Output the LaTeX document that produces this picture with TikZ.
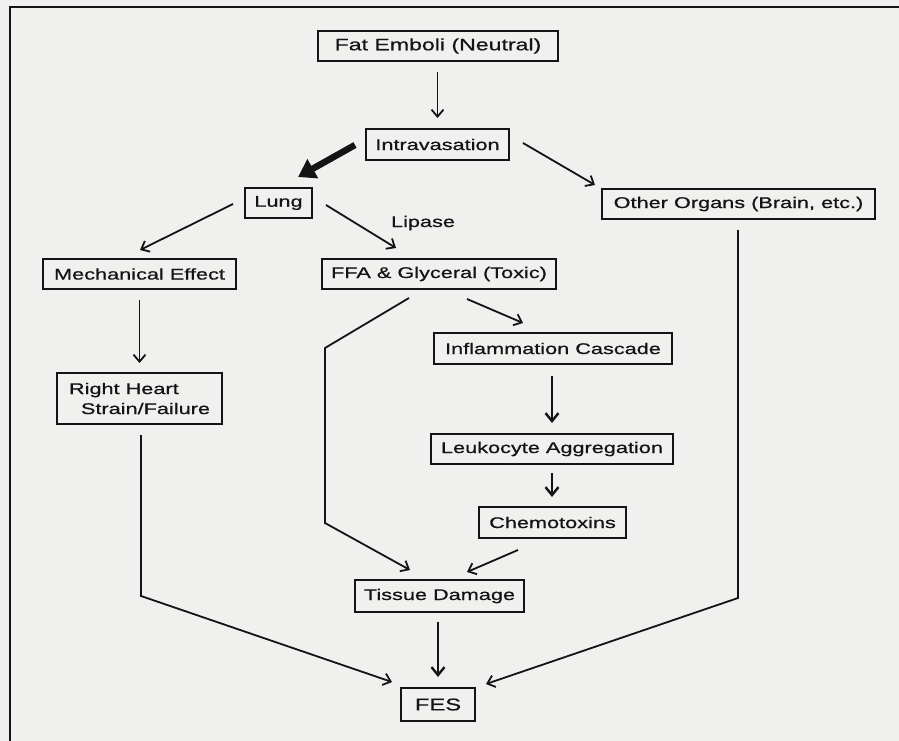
\documentclass[tikz,border=0pt]{standalone}
\usepackage{fontspec}
\setmainfont{Liberation Sans}[FakeStretch=1.4,FakeBold=0.7]
\usetikzlibrary{arrows.meta}
\definecolor{paper}{RGB}{240,240,238}
\definecolor{ink}{RGB}{20,20,20}
\begin{document}
\begin{tikzpicture}[x=1pt,y=-1pt,
  box/.style={draw=ink,line width=1.9pt,fill=paper,inner sep=0pt,outer sep=0pt,
    font=\fontsize{15.5}{20}\selectfont,text=ink},
  arr/.style={draw=ink,line width=1.8pt,-{Straight Barb[length=7pt,width=12pt,line width=1.8pt]}},
  tarr/.style={draw=ink,line width=2.4pt,-{Straight Barb[length=8pt,width=13pt,line width=2.4pt]}},
  bigarr/.style={draw=ink,line width=6.5pt,-{Triangle[length=17pt,width=21pt]}}]
\useasboundingbox[fill=paper] (0,0) rectangle (899,741);
\draw[ink,line width=2.8pt] (10,741) -- (10,7) -- (899,7);
% nodes
\node[box,minimum width=240pt,minimum height=30pt,font=\fontsize{16.5}{20}\selectfont] (fat) at (438,46) {Fat Emboli (Neutral)};
\node[box,minimum width=143pt,minimum height=31pt] (intr) at (437.5,144.5) {Intravasation};
\node[box,minimum width=67pt,minimum height=30pt] (lung) at (278.5,203) {Lung};
\node[box,minimum width=273pt,minimum height=30pt] (other) at (738.5,204) {Other Organs (Brain, etc.)};
\node[box,minimum width=193pt,minimum height=30pt] (mech) at (139.5,274) {Mechanical Effect};
\node[box,minimum width=234pt,minimum height=30pt] (ffa) at (439,274) {FFA \& Glyceral (Toxic)};
\node[box,minimum width=238pt,minimum height=31pt] (inflam) at (553,348.5) {Inflammation Cascade};
\node[box,minimum width=165pt,minimum height=51pt,align=left] (rh) at (139.5,398.5) {Right Heart\\\hspace*{12pt}Strain/Failure};
\node[box,minimum width=242pt,minimum height=30pt] (leuko) at (552,449) {Leukocyte Aggregation};
\node[box,minimum width=147pt,minimum height=31pt] (chemo) at (552.5,522.5) {Chemotoxins};
\node[box,minimum width=169pt,minimum height=32pt] (tissue) at (439.5,596) {Tissue Damage};
\node[box,minimum width=74pt,minimum height=33pt,font=\fontsize{17}{20}\selectfont] (fes) at (438,704.5) {FES};
\node[font=\fontsize{15.5}{20}\selectfont,text=ink] (lipase) at (423,223) {Lipase};
% connector end points
\coordinate (bigS) at (355,145); \coordinate (bigE) at (298,177);
\coordinate (ioS) at (523,143); \coordinate (ioE) at (595,185);
\coordinate (lmS) at (233,204); \coordinate (lmE) at (140,250);
\coordinate (lfS) at (326,205); \coordinate (lfE) at (396,248);
\coordinate (fiS) at (467,299); \coordinate (fiE) at (523,323);
\coordinate (ctS) at (518,550); \coordinate (ctE) at (467,572);
\coordinate (ftS) at (409,298); \coordinate (ftA) at (325,348); \coordinate (ftB) at (325,523); \coordinate (ftE) at (410,570);
\coordinate (rfS) at (141,435); \coordinate (rfA) at (141,596); \coordinate (rfE) at (392,682);
\coordinate (ofS) at (738,230); \coordinate (ofA) at (738,598); \coordinate (ofE) at (486,684);
% vertical arrows
\draw[arr,shorten <=11pt,shorten >=11pt] (fat.south -| intr) -- (intr.north);
\draw[arr,shorten <=11pt,shorten >=10pt] (mech.south) -- (mech.south |- rh.north);
\draw[tarr,shorten <=12pt,shorten >=11pt] (leuko.north |- inflam.south) -- (leuko.north);
\draw[tarr,shorten <=9pt,shorten >=10pt] (leuko.south) -- (leuko.south |- chemo.north);
\draw[tarr,shorten <=10pt,shorten >=11pt] (tissue.south -| fes) -- (fes.north);
% diagonal arrows
\draw[bigarr] (bigS) -- (bigE);
\draw[arr] (ioS) -- (ioE);
\draw[arr] (lmS) -- (lmE);
\draw[arr] (lfS) -- (lfE);
\draw[arr] (fiS) -- (fiE);
\draw[arr] (ctS) -- (ctE);
\draw[arr,line join=miter] (ftS) -- (ftA) -- (ftB) -- (ftE);
\draw[arr] (rfS) -- (rfA) -- (rfE);
\draw[arr] (ofS) -- (ofA) -- (ofE);
\end{tikzpicture}
\end{document}
